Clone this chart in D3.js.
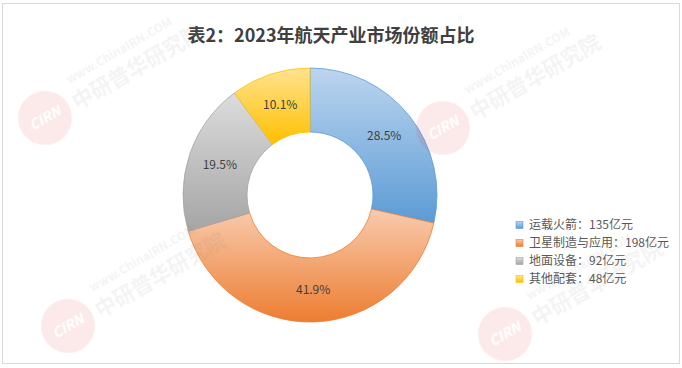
<!DOCTYPE html>
<html><head><meta charset="utf-8">
<script src="https://cdn.jsdelivr.net/npm/d3@7"></script>
<style>
html,body{margin:0;padding:0;background:#fff;}
svg{display:block;font-family:"Noto Sans CJK SC","Microsoft YaHei",sans-serif;}
</style></head>
<body><svg id="c" width="682" height="368"></svg>
<script>
const title = "表2：2023年航天产业市场份额占比";
const categories = ["运载火箭", "卫星制造与应用", "地面设备", "其他配套"];
const values = [135, 198, 92, 48];
const unit = "亿元";
const topColors = ["#bcd5ef", "#f8cbad", "#dcdcdc", "#ffe38f"];
const bottomColors = ["#5b9bd5", "#ed7d31", "#a5a5a5", "#ffc000"];

const svg = d3.select("#c");
const defs = svg.append("defs");
categories.forEach((c, i) => {
  const g = defs.append("linearGradient").attr("id", "g" + i)
    .attr("x1", 0).attr("y1", 0).attr("x2", 0).attr("y2", 1);
  g.append("stop").attr("offset", "0%").attr("stop-color", topColors[i]);
  g.append("stop").attr("offset", "100%").attr("stop-color", bottomColors[i]);
});

// chart border
svg.append("rect").attr("x", 2.5).attr("y", 3.5).attr("width", 677).attr("height", 360)
  .attr("fill", "#fff").attr("stroke", "#d9d9d9").attr("stroke-width", 1);

svg.append("text").attr("x", 331).attr("y", 42).attr("text-anchor", "middle")
  .attr("font-size", 18).attr("font-weight", "bold").attr("fill", "#404040").text(title);

const cx = 310, cy = 195, rOuter = 127, rInner = 63;
const pie = d3.pie().sort(null).value(d => d);
const arcs = pie(values);
const arc = d3.arc().innerRadius(rInner).outerRadius(rOuter);
const g = svg.append("g").attr("transform", `translate(${cx},${cy})`);
g.selectAll("path.slice").data(arcs).enter().append("path").attr("class", "slice")
  .attr("d", arc)
  .attr("fill", (d, i) => `url(#g${i})`)
  .attr("stroke", (d, i) => bottomColors[i])
  .attr("stroke-width", 0.8)
  .attr("stroke-linejoin", "round");

const fmt = d3.format(".1%");
const total = d3.sum(values);
g.selectAll("text.lbl").data(arcs).enter().append("text").attr("class", "lbl")
  .attr("transform", d => `translate(${arc.centroid(d)})`)
  .attr("text-anchor", "middle").attr("dy", "0.35em")
  .attr("font-size", 12).attr("fill", "#404040")
  .text(d => fmt(d.value / total));

// legend
const ly = d3.scaleBand().domain(categories).range([216, 288]);
const leg = svg.append("g");
const item = leg.selectAll("g").data(categories).enter().append("g")
  .attr("transform", d => `translate(516,${ly(d) + ly.bandwidth() / 2})`);
item.append("rect").attr("x", 0).attr("y", -3.5).attr("width", 7).attr("height", 7)
  .attr("fill", (d, i) => `url(#g${i})`).attr("stroke", (d, i) => bottomColors[i]).attr("stroke-width", 0.6);
item.append("text").attr("x", 13).attr("dy", "0.36em").attr("font-size", 12)
  .attr("fill", "#595959").text((d, i) => `${d}：${values[i]}${unit}`);

// faint watermarks
const marks = [[45, 118], [443, 128], [68, 326], [505, 334]];
const wm = svg.append("g").attr("opacity", 0.1).attr("pointer-events", "none");
marks.forEach(([x, y]) => {
  const m = wm.append("g").attr("transform", `translate(${x},${y}) rotate(-30)`);
  m.append("circle").attr("r", 27).attr("fill", "#e03030");
  m.append("text").attr("text-anchor", "middle").attr("dy", "0.35em").attr("font-size", 14)
    .attr("font-weight", "bold").attr("font-style", "italic").attr("fill", "#fff").text("CIRN");
  m.append("text").attr("x", 32).attr("y", 9).attr("font-size", 21).attr("font-weight", "bold")
    .attr("fill", "#888").text("中研普华研究院");
  m.append("text").attr("x", 38).attr("y", -17).attr("font-size", 12).attr("font-weight", "bold")
    .attr("fill", "#888").text("www.ChinaIRN.COM");
});
</script></body></html>
